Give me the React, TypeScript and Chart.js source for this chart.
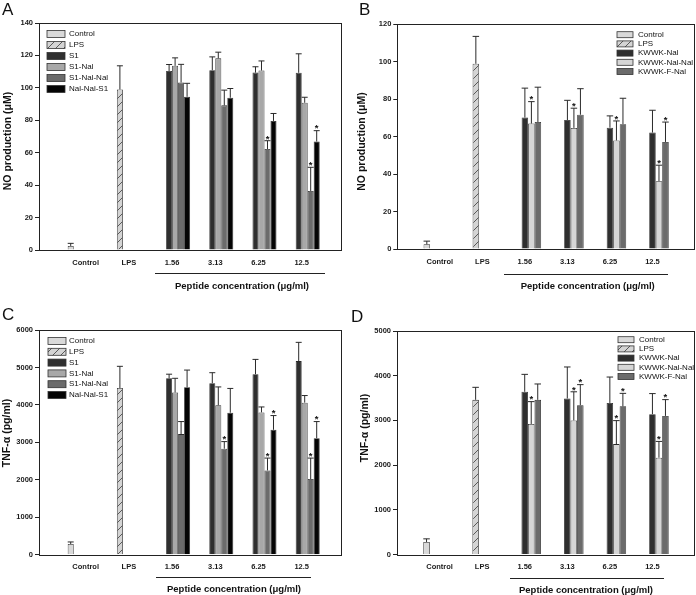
import React, { useEffect, useRef } from 'react';
import { Chart, registerables } from 'chart.js';

Chart.register(...registerables);

const FONT = "'Liberation Sans', Arial, sans-serif";
const W = 696;
const H = 595;

// ---------- shared categories / text ----------
const categories = ['Control', 'LPS', '1.56', '3.13', '6.25', '12.5'];
const xTitle = 'Peptide concentration (\u03bcg/ml)';
const noTitle = 'NO production (\u03bcM)';
const tnfTitle = 'TNF-\u03b1 (pg/ml)';

// ---------- Panel A : NO, S1 family ----------
const aControl = 2.5;
const aControlErr = 1.6;
const aLps = 99;
const aLpsErr = 14.6;
const aS1 = [110.4, 110.9, 109.4, 109.3];
const aS1Err = [4.0, 8.2, 3.6, 11.7];
const aS1Nal = [113.6, 118.2, 110.7, 90.8];
const aS1NalErr = [4.9, 3.8, 5.9, 3.4];
const aS1NalNal = [103.3, 89.2, 62.3, 36.4];
const aS1NalNalErr = [11.2, 9.4, 5.1, 14.6];
const aS1NalNalSig = [false, false, true, true];
const aNalNalS1 = [94.5, 93.9, 79.6, 66.9];
const aNalNalS1Err = [8.3, 5.7, 4.6, 6.7];
const aNalNalS1Sig = [false, false, false, true];

// ---------- Panel B : NO, KWWK family ----------
const bControl = 2.5;
const bControlErr = 1.7;
const bLps = 98.8;
const bLpsErr = 14.6;
const bKwwkNal = [70.1, 68.8, 64.7, 62.1];
const bKwwkNalErr = [15.7, 10.5, 6.3, 11.9];
const bKwwkNalNal = [66.9, 64.6, 57.9, 36.2];
const bKwwkNalNalErr = [11.7, 10.5, 10.4, 8.5];
const bKwwkNalNalSig = [true, true, true, true];
const bKwwkFNal = [67.7, 71.6, 66.6, 57.1];
const bKwwkFNalErr = [18.6, 13.9, 13.8, 10.6];
const bKwwkFNalSig = [false, false, false, true];

// ---------- Panel C : TNF-a, S1 family ----------
const cControl = 285;
const cControlErr = 55;
const cLps = 4450;
const cLpsErr = 580;
const cS1 = [4710, 4580, 4820, 5170];
const cS1Err = [110, 280, 395, 500];
const cS1Nal = [4330, 3990, 3800, 4060];
const cS1NalErr = [380, 490, 145, 190];
const cS1NalNal = [3220, 2830, 2250, 2020];
const cS1NalNalErr = [335, 190, 330, 560];
const cS1NalNalSig = [false, true, true, true];
const cNalNalS1 = [4470, 3790, 3335, 3110];
const cNalNalS1Err = [460, 650, 380, 445];
const cNalNalS1Sig = [false, false, true, true];

// ---------- Panel D : TNF-a, KWWK family ----------
const dControl = 280;
const dControlErr = 70;
const dLps = 3460;
const dLpsErr = 280;
const dKwwkNal = [3640, 3490, 3390, 3140];
const dKwwkNalErr = [390, 705, 580, 460];
const dKwwkNalNal = [2920, 3000, 2470, 2165];
const dKwwkNalNalErr = [500, 640, 525, 365];
const dKwwkNalNalSig = [true, true, true, true];
const dKwwkFNal = [3460, 3340, 3315, 3100];
const dKwwkFNalErr = [355, 460, 290, 365];
const dKwwkFNalSig = [false, true, true, true];

// ---------- builders ----------
type Series = {
  label: string;
  values: (number | null)[];
  errs: (number | null)[];
  sig: boolean[];
  fill: string;
  hatch?: boolean;
};

const N = null;
const controlSeries = (v: number, e: number): Series => ({
  label: 'Control', values: [v, N, N, N, N, N], errs: [e, N, N, N, N, N], sig: [], fill: '#d9d9d9',
});
const lpsSeries = (v: number, e: number): Series => ({
  label: 'LPS', values: [N, v, N, N, N, N], errs: [N, e, N, N, N, N], sig: [], fill: '#d4d4d4', hatch: true,
});
const peptideSeries = (label: string, v: number[], e: number[], sig: boolean[] | null, fill: string): Series => ({
  label,
  values: [N, N, ...v],
  errs: [N, N, ...e],
  sig: [false, false, ...(sig || [false, false, false, false])],
  fill,
});

type PanelSpec = {
  key: string;
  series: Series[];
  left: number; right: number; top: number; bottom: number;
  xMin: number; xMax: number; yMax: number; yStep: number; catPct: number;
  yTitle: string; yTitleX: number; yTitleY: number;
  letter: string; letterX: number; letterY: number;
  lineX0: number; lineX1: number; lineY: number; xTitleX: number; xTitleY: number;
  legend: { x: number; y0: number; step: number; bw: number; bh: number; tx: number };
};

const panels: PanelSpec[] = [
  {
    key: 'A',
    series: [
      controlSeries(aControl, aControlErr),
      lpsSeries(aLps, aLpsErr),
      peptideSeries('S1', aS1, aS1Err, null, '#2f2f2f'),
      peptideSeries('S1-Nal', aS1Nal, aS1NalErr, null, '#a8a8a8'),
      peptideSeries('S1-Nal-Nal', aS1NalNal, aS1NalNalErr, aS1NalNalSig, '#6b6b6b'),
      peptideSeries('Nal-Nal-S1', aNalNalS1, aNalNalS1Err, aNalNalS1Sig, '#050505'),
    ],
    left: 39, right: 342, top: 23, bottom: 250,
    xMin: -1.081, xMax: 5.933, yMax: 140, yStep: 20, catPct: 0.833,
    yTitle: noTitle, yTitleX: 8.5, yTitleY: 141,
    letter: 'A', letterX: 2, letterY: 15,
    lineX0: 155, lineX1: 325, lineY: 272.5, xTitleX: 242, xTitleY: 286,
    legend: { x: 47, y0: 34, step: 11, bw: 18, bh: 7, tx: 69 },
  },
  {
    key: 'B',
    series: [
      controlSeries(bControl, bControlErr),
      lpsSeries(bLps, bLpsErr),
      peptideSeries('KWWK-Nal', bKwwkNal, bKwwkNalErr, null, '#2f2f2f'),
      peptideSeries('KWWK-Nal-Nal', bKwwkNalNal, bKwwkNalNalErr, bKwwkNalNalSig, '#d6d6d6'),
      peptideSeries('KWWK-F-Nal', bKwwkFNal, bKwwkFNalErr, bKwwkFNalSig, '#6b6b6b'),
    ],
    left: 397.3, right: 695, top: 24, bottom: 249,
    xMin: -1, xMax: 6, yMax: 120, yStep: 20, catPct: 0.765,
    yTitle: noTitle, yTitleX: 362, yTitleY: 141.5,
    letter: 'B', letterX: 359, letterY: 15,
    lineX0: 504, lineX1: 668, lineY: 274.3, xTitleX: 587.7, xTitleY: 286,
    legend: { x: 617, y0: 34.7, step: 9.2, bw: 16, bh: 6, tx: 638 },
  },
  {
    key: 'C',
    series: [
      controlSeries(cControl, cControlErr),
      lpsSeries(cLps, cLpsErr),
      peptideSeries('S1', cS1, cS1Err, null, '#2f2f2f'),
      peptideSeries('S1-Nal', cS1Nal, cS1NalErr, null, '#a8a8a8'),
      peptideSeries('S1-Nal-Nal', cS1NalNal, cS1NalNalErr, cS1NalNalSig, '#6b6b6b'),
      peptideSeries('Nal-Nal-S1', cNalNalS1, cNalNalS1Err, cNalNalS1Sig, '#050505'),
    ],
    left: 39, right: 342, top: 330, bottom: 554.7,
    xMin: -1.081, xMax: 5.933, yMax: 6000, yStep: 1000, catPct: 0.833,
    yTitle: tnfTitle, yTitleX: 7, yTitleY: 433,
    letter: 'C', letterX: 2, letterY: 320,
    lineX0: 156, lineX1: 311, lineY: 576.7, xTitleX: 234, xTitleY: 589,
    legend: { x: 48, y0: 341, step: 10.8, bw: 18, bh: 7, tx: 69 },
  },
  {
    key: 'D',
    series: [
      controlSeries(dControl, dControlErr),
      lpsSeries(dLps, dLpsErr),
      peptideSeries('KWWK-Nal', dKwwkNal, dKwwkNalErr, null, '#2f2f2f'),
      peptideSeries('KWWK-Nal-Nal', dKwwkNalNal, dKwwkNalNalErr, dKwwkNalNalSig, '#d6d6d6'),
      peptideSeries('KWWK-F-Nal', dKwwkFNal, dKwwkFNalErr, dKwwkFNalSig, '#6b6b6b'),
    ],
    left: 397, right: 695, top: 331, bottom: 554.5,
    xMin: -1, xMax: 6, yMax: 5000, yStep: 1000, catPct: 0.765,
    yTitle: tnfTitle, yTitleX: 365, yTitleY: 428,
    letter: 'D', letterX: 351, letterY: 322,
    lineX0: 510, lineX1: 664, lineY: 577.7, xTitleX: 586, xTitleY: 590.3,
    legend: { x: 618, y0: 339.7, step: 9.2, bw: 16, bh: 6, tx: 639 },
  },
];

function makeHatch(): CanvasPattern {
  const c = document.createElement('canvas');
  c.width = 8;
  c.height = 8;
  const g = c.getContext('2d')!;
  g.fillStyle = '#d4d4d4';
  g.fillRect(0, 0, 8, 8);
  g.strokeStyle = '#3a3a3a';
  g.lineWidth = 0.8;
  g.beginPath();
  g.moveTo(0, 8); g.lineTo(8, 0);
  g.moveTo(-1, 1); g.lineTo(1, -1);
  g.moveTo(7, 9); g.lineTo(9, 7);
  g.stroke();
  return g.createPattern(c, 'repeat')!;
}

function PanelChart({ spec }: { spec: PanelSpec }) {
  const ref = useRef<HTMLCanvasElement>(null);
  useEffect(() => {
    const canvas = ref.current!;
    const hatch = makeHatch();
    const fillOf = (s: Series): any => (s.hatch ? hatch : s.fill);

    const plugin = {
      id: 'deco' + spec.key,
      afterDatasetsDraw(chart: any) {
        const ctx = chart.ctx as CanvasRenderingContext2D;
        const ys = chart.scales.y;
        ctx.save();
        spec.series.forEach((s, di) => {
          const meta = chart.getDatasetMeta(di);
          s.values.forEach((v, i) => {
            const e = s.errs[i];
            if (v == null || e == null) return;
            const bar = meta.data[i];
            const x = bar.x;
            const hw = bar.width / 2;
            const y0 = ys.getPixelForValue(v);
            const y1 = ys.getPixelForValue(v + e);
            ctx.strokeStyle = '#2a2a2a';
            ctx.lineWidth = 1;
            ctx.beginPath();
            ctx.moveTo(x, y0);
            ctx.lineTo(x, y1);
            ctx.moveTo(x - hw, y1);
            ctx.lineTo(x + hw, y1);
            ctx.stroke();
            if (s.sig[i]) {
              ctx.fillStyle = '#111';
              ctx.font = `bold 9.5px ${FONT}`;
              ctx.textAlign = 'center';
              ctx.textBaseline = 'alphabetic';
              ctx.fillText('*', x, y1 + 0.8);
            }
          });
        });
        ctx.restore();
      },
      afterDraw(chart: any) {
        const ctx = chart.ctx as CanvasRenderingContext2D;
        const ca = chart.chartArea;
        ctx.save();
        // frame
        ctx.strokeStyle = '#222';
        ctx.lineWidth = 1;
        ctx.strokeRect(Math.round(ca.left) + 0.5, Math.round(ca.top) + 0.5,
          Math.round(ca.right) - Math.round(ca.left) - 1, Math.round(ca.bottom) - Math.round(ca.top));
        // legend
        const L = spec.legend;
        spec.series.forEach((s, k) => {
          const cy = L.y0 + k * L.step;
          ctx.fillStyle = fillOf(s);
          ctx.fillRect(L.x, cy - L.bh / 2, L.bw, L.bh);
          ctx.strokeStyle = '#333';
          ctx.lineWidth = 0.8;
          ctx.strokeRect(L.x, cy - L.bh / 2, L.bw, L.bh);
          ctx.fillStyle = '#111';
          ctx.font = `8px ${FONT}`;
          ctx.textAlign = 'left';
          ctx.textBaseline = 'middle';
          ctx.fillText(s.label, L.tx, cy);
        });
        // panel letter
        ctx.fillStyle = '#111';
        ctx.font = `17px ${FONT}`;
        ctx.textAlign = 'left';
        ctx.textBaseline = 'alphabetic';
        ctx.fillText(spec.letter, spec.letterX, spec.letterY);
        // y title
        ctx.save();
        ctx.translate(spec.yTitleX, spec.yTitleY);
        ctx.rotate(-Math.PI / 2);
        ctx.font = `bold 10.5px ${FONT}`;
        ctx.textAlign = 'center';
        ctx.textBaseline = 'middle';
        ctx.fillText(spec.yTitle, 0, 0);
        ctx.restore();
        // underline + x title
        ctx.strokeStyle = '#222';
        ctx.lineWidth = 1;
        ctx.beginPath();
        ctx.moveTo(spec.lineX0, Math.round(spec.lineY) + 0.5);
        ctx.lineTo(spec.lineX1, Math.round(spec.lineY) + 0.5);
        ctx.stroke();
        ctx.font = `bold 9.5px ${FONT}`;
        ctx.textAlign = 'center';
        ctx.textBaseline = 'middle';
        ctx.fillText(xTitle, spec.xTitleX, spec.xTitleY);
        ctx.restore();
      },
    };

    const chart = new Chart(canvas, {
      type: 'bar',
      data: {
        labels: categories.map((_, i) => i),
        datasets: spec.series.map((s) => ({
          label: s.label,
          data: s.values,
          backgroundColor: fillOf(s),
          borderColor: '#2a2a2a',
          borderWidth: 0.8,
          categoryPercentage: spec.catPct,
          barPercentage: 1,
        })) as any,
      },
      options: {
        responsive: false,
        animation: false,
        events: [],
        layout: {
          padding: {
            left: spec.left - 30,
            right: W - spec.right,
            top: spec.top,
            bottom: H - spec.bottom - 20,
          },
        },
        plugins: { legend: { display: false }, tooltip: { enabled: false } },
        scales: {
          x: {
            type: 'linear',
            min: spec.xMin,
            max: spec.xMax,
            offset: false,
            afterBuildTicks: (s: any) => {
              s.ticks = categories.map((_, i) => ({ value: i }));
            },
            afterFit: (s: any) => { s.height = 20; },
            grid: { display: false, drawTicks: false, offset: false },
            border: { display: false },
            ticks: {
              autoSkip: false,
              maxRotation: 0,
              minRotation: 0,
              padding: 8,
              color: '#1a1a1a',
              font: { family: FONT, size: 7.5, weight: 'bold' },
              callback: (_v: any, i: number) => categories[i],
            },
          } as any,
          y: {
            min: 0,
            max: spec.yMax,
            afterFit: (s: any) => { s.width = 30; },
            grid: { drawOnChartArea: false, drawTicks: true, tickLength: 4, color: '#222', lineWidth: 1 },
            border: { display: false },
            ticks: {
              stepSize: spec.yStep,
              padding: 2,
              color: '#1a1a1a',
              font: { family: FONT, size: 7.5, weight: 'bold' },
              callback: (v: any) => String(v),
            },
          } as any,
        },
      },
      plugins: [plugin],
    });
    return () => chart.destroy();
  }, [spec]);
  return (
    <canvas
      ref={ref}
      width={W}
      height={H}
      style={{ position: 'absolute', left: 0, top: 0, width: W, height: H }}
    />
  );
}

export default function App() {
  return (
    <div style={{ position: 'fixed', left: 0, top: 0, width: W, height: H, background: '#ffffff', overflow: 'hidden' }}>
      {panels.map((p) => (
        <PanelChart key={p.key} spec={p} />
      ))}
    </div>
  );
}
